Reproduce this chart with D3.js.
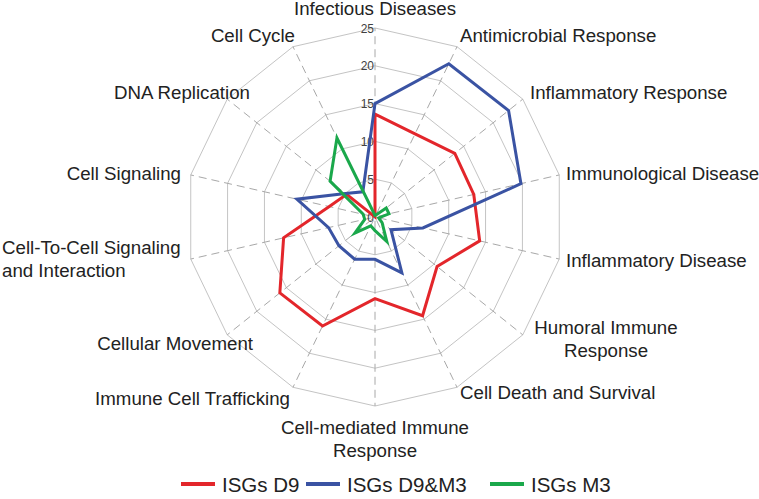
<!DOCTYPE html>
<html><head><meta charset="utf-8">
<script src="https://cdn.jsdelivr.net/npm/d3@7/dist/d3.min.js"></script>
<style>html,body{margin:0;padding:0;background:#fff;}svg{display:block;font-family:"Liberation Sans",Arial,sans-serif;}</style>
</head><body>
<svg id="chart" width="759" height="499"></svg>
<script>
const categories = ["Infectious Diseases","Antimicrobial Response","Inflammatory Response","Immunological Disease","Inflammatory Disease","Humoral Immune Response","Cell Death and Survival","Cell-mediated Immune Response","Immune Cell Trafficking","Cellular Movement","Cell-To-Cell Signaling and Interaction","Cell Signaling","DNA Replication","Cell Cycle"];
const labelLines = [["Infectious Diseases"],["Antimicrobial Response"],["Inflammatory Response"],["Immunological Disease"],["Inflammatory Disease"],["Humoral Immune","Response"],["Cell Death and Survival"],["Cell-mediated Immune","Response"],["Immune Cell Trafficking"],["Cellular Movement"],["Cell-To-Cell Signaling","and Interaction"],["Cell Signaling"],["DNA Replication"],["Cell Cycle"]];
const seriesNames = ["ISGs D9","ISGs D9&M3","ISGs M3"];
const d9   = [13.6, 12.2, 13.5, 13.4, 14.2, 10.5, 14.5, 10.8, 16.0, 16.1, 12.4, 6.2, 4.8, 0];
const d9m3 = [15.0, 22.5, 22.6, 19.8, 6.5, 2.7, 8.2, 5.6, 6.2, 6.1, 6.3, 10.6, 5.0, 3.7];
const m3   = [0.2, 0.3, 1.9, 1.9, 0.5, 1.2, 3.6, 1.8, 1.3, 3.4, 1.4, 1.6, 7.6, 11.6];
const ticks = [0, 5, 10, 15, 20, 25];

// layout (not data)
const cx = 375, cy = 217, R = 189;
const colors = ["#e3262b", "#3a53a3", "#1aa84b"];
const labelLayout = [
  [375, 8, "middle"], [460, 35, "start"], [530, 92, "start"], [566, 173, "start"],
  [566, 260, "start"], [606, 327, "middle"], [460, 392, "start"], [375, 427, "middle"],
  [290, 398, "end"], [253, 343, "end"], [2, 247, "start"], [181, 173, "end"],
  [250, 92, "end"], [295, 35, "end"]
];

const svg = d3.select("#chart");
const n = categories.length;
const r = d3.scaleLinear().domain([0, 25]).range([0, R]);
const ang = d3.scaleLinear().domain([0, n]).range([0, 2 * Math.PI]);
const pt = (i, v) => [cx + r(v) * Math.sin(ang(i)), cy - r(v) * Math.cos(ang(i))];

const g = svg.append("g");
// grid polygons
ticks.filter(t => t > 0).forEach(t => {
  g.append("path")
    .attr("d", d3.line()(d3.range(n).map(i => pt(i, t))) + "Z")
    .attr("fill", "none").attr("stroke", "#c4c4c4").attr("stroke-width", 1);
});
// spokes
d3.range(n).forEach(i => {
  const a = pt(i, 0.5), b = pt(i, 25);
  g.append("line").attr("x1", a[0]).attr("y1", a[1]).attr("x2", b[0]).attr("y2", b[1])
    .attr("stroke", "#a8a8a8").attr("stroke-width", 1).attr("stroke-dasharray", "8,5");
});
// tick labels
ticks.forEach(t => {
  g.append("text").attr("x", cx - 1).attr("y", cy - r(t) + 4.5)
    .attr("text-anchor", "end").attr("font-size", 12).attr("fill", "#404040").text(t);
});
// series
[d9, d9m3, m3].forEach((s, k) => {
  g.append("path")
    .attr("d", d3.line()(s.map((v, i) => pt(i, v))) + "Z")
    .attr("fill", "none").attr("stroke", colors[k]).attr("stroke-width", 3)
    .attr("stroke-linejoin", "miter");
});
// category labels
labelLines.forEach((lines, i) => {
  const [x, y, anchor] = labelLayout[i];
  const t = svg.append("text").attr("x", x).attr("y", y + 6.5)
    .attr("text-anchor", anchor).attr("font-size", 18.7).attr("fill", "#222");
  lines.forEach((ln, j) => {
    t.append("tspan").attr("x", x).attr("dy", j === 0 ? 0 : 23).text(ln);
  });
});
// legend
const legX = [181, 306, 490];
seriesNames.forEach((nm, k) => {
  svg.append("line").attr("x1", legX[k]).attr("x2", legX[k] + 34)
    .attr("y1", 484).attr("y2", 484).attr("stroke", colors[k]).attr("stroke-width", 4);
  svg.append("text").attr("x", legX[k] + 41).attr("y", 491.5).attr("font-size", 20.5)
    .attr("fill", "#222").text(nm);
});
</script>
</body></html>
